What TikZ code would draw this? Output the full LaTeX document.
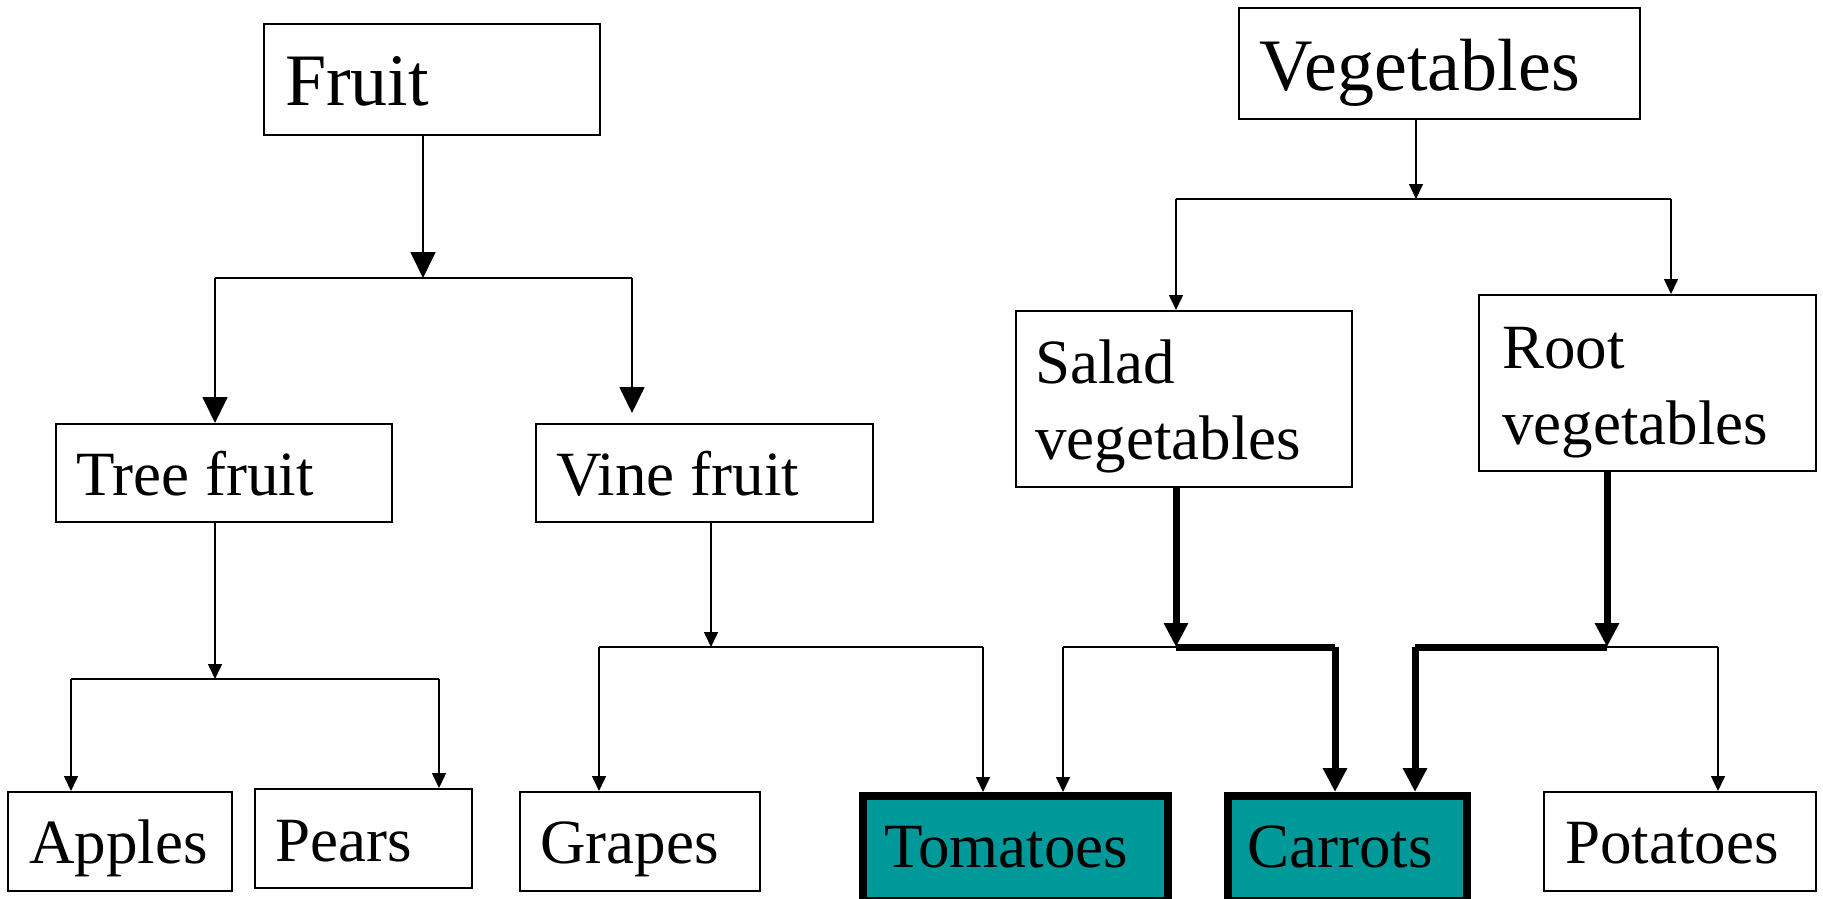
\documentclass[tikz,border=0pt]{standalone}
\usepackage{fontspec}
\setmainfont{Liberation Serif}
\usetikzlibrary{arrows.meta}
\definecolor{tealbox}{RGB}{0,153,153}
\begin{document}
\begin{tikzpicture}[x=1pt,y=-1pt,
  box/.style={draw=black, line width=2pt, fill=white, rectangle, inner sep=0pt},
  hibox/.style={draw=black, line width=8pt, fill=tealbox, rectangle, inner sep=0pt},
  big/.style={font=\fontsize{74}{88}\selectfont, anchor=base west, inner sep=0pt},
  lab/.style={font=\fontsize{63}{76}\selectfont, anchor=base west, inner sep=0pt, align=left},
  thinc/.style={line width=1.5pt},
  bigarr/.style={line width=1.8pt, -{Triangle[length=26pt,width=25pt]}},
  smarr/.style={line width=1.5pt, -{Triangle[length=15pt,width=14pt]}},
  thickarr/.style={line width=7pt, -{Triangle[length=24pt,width=23pt]}},
  thickl/.style={line width=7pt}
]
\useasboundingbox (0,0) rectangle (1823,899);
\fill[white] (0,0) rectangle (1823,899);

% boxes
\node[box, minimum width=336pt, minimum height=111pt, anchor=north west] (fruit) at (263,23) {};
\node[box, minimum width=401pt, minimum height=111pt, anchor=north west] (veg) at (1238,7) {};
\node[box, minimum width=336pt, minimum height=98pt, anchor=north west] (tree) at (55,423) {};
\node[box, minimum width=337pt, minimum height=98pt, anchor=north west] (vine) at (535,423) {};
\node[box, minimum width=336pt, minimum height=176pt, anchor=north west] (salad) at (1015,310) {};
\node[box, minimum width=337pt, minimum height=176pt, anchor=north west] (root) at (1478,294) {};
\node[box, minimum width=224pt, minimum height=99pt, anchor=north west] (apples) at (7,791) {};
\node[box, minimum width=217pt, minimum height=99pt, anchor=north west] (pears) at (254,788) {};
\node[box, minimum width=240pt, minimum height=99pt, anchor=north west] (grapes) at (519,791) {};
\node[hibox, minimum width=305pt, minimum height=105pt, anchor=north west] (tomatoes) at (859,792) {};
\node[hibox, minimum width=239pt, minimum height=105pt, anchor=north west] (carrots) at (1224,792) {};
\node[box, minimum width=272pt, minimum height=99pt, anchor=north west] (potatoes) at (1543,791) {};

% labels
\node[big] (tfruit) at (285,106) {Fruit};
\node[big] (tveg) at (1259,90) {Vegetables};
\node[lab] (ttree) at (76,495) {Tree fruit};
\node[lab] (tvine) at (556,495) {Vine fruit};
\node[lab] (tsalad) at (1035,459) {Salad\\vegetables};
\node[lab] (troot) at (1502,444) {Root\\vegetables};
\node[lab] (tapples) at (29,863) {Apples};
\node[lab] (tpears) at (275,861) {Pears};
\node[lab] (tgrapes) at (540,863) {Grapes};
\node[lab] (ttom) at (884,867) {Tomatoes};
\node[lab] (tcar) at (1247,867) {Carrots};
\node[lab] (tpot) at (1565,863) {Potatoes};

% junction coordinates
\coordinate (jf) at (423,278);
\coordinate (jfl) at (215,278);
\coordinate (jfr) at (632,278);
\coordinate (jt) at (215,679);
\coordinate (jtl) at (71,679);
\coordinate (jtr) at (439,679);
\coordinate (jv) at (711,647);
\coordinate (jvl) at (599,647);
\coordinate (jvr) at (983,647);
\coordinate (jg) at (1416,199);
\coordinate (jgl) at (1176,199);
\coordinate (jgr) at (1671,199);
\coordinate (js) at (1176,647);
\coordinate (jsl) at (1063,647);
\coordinate (jsr) at (1335,647);
\coordinate (jr) at (1607,647);
\coordinate (jrl) at (1415,647);
\coordinate (jrr) at (1718,647);

% Fruit
\draw[bigarr] (jf |- fruit.south) -- (jf);
\draw[thinc, line width=1.8pt] (jfl) -- (jfr);
\draw[bigarr] (jfl) -- (jfl |- tree.north);
\draw[bigarr, shorten >=10pt] (jfr) -- (jfr |- vine.north);

% Tree fruit
\draw[smarr] (jt |- tree.south) -- (jt);
\draw[thinc] (jtl) -- (jtr);
\draw[smarr] (jtl) -- (jtl |- apples.north);
\draw[smarr] (jtr) -- (jtr |- pears.north);

% Vine fruit
\draw[smarr] (jv |- vine.south) -- (jv);
\draw[thinc] (jvl) -- (jvr);
\draw[smarr] (jvl) -- (jvl |- grapes.north);
\draw[smarr] (jvr) -- (jvr |- tomatoes.north);

% Vegetables
\draw[smarr] (jg |- veg.south) -- (jg);
\draw[thinc] (jgl) -- (jgr);
\draw[smarr] (jgl) -- (jgl |- salad.north);
\draw[smarr] (jgr) -- (jgr |- root.north);

% Salad vegetables
\draw[thinc] (js) -- (jsl);
\draw[smarr] (jsl) -- (jsl |- tomatoes.north);
\draw[thickl] (js) -- (jsr);
\draw[thickarr] (jsr) -- (jsr |- carrots.north);
\draw[thickarr] (js |- salad.south) -- (js);

% Root vegetables
\draw[thinc] (jr) -- (jrr);
\draw[smarr] (jrr) -- (jrr |- potatoes.north);
\draw[thickl] (jr) -- (jrl);
\draw[thickarr] (jrl) -- (jrl |- carrots.north);
\draw[thickarr] (jr |- root.south) -- (jr);
\end{tikzpicture}
\end{document}
